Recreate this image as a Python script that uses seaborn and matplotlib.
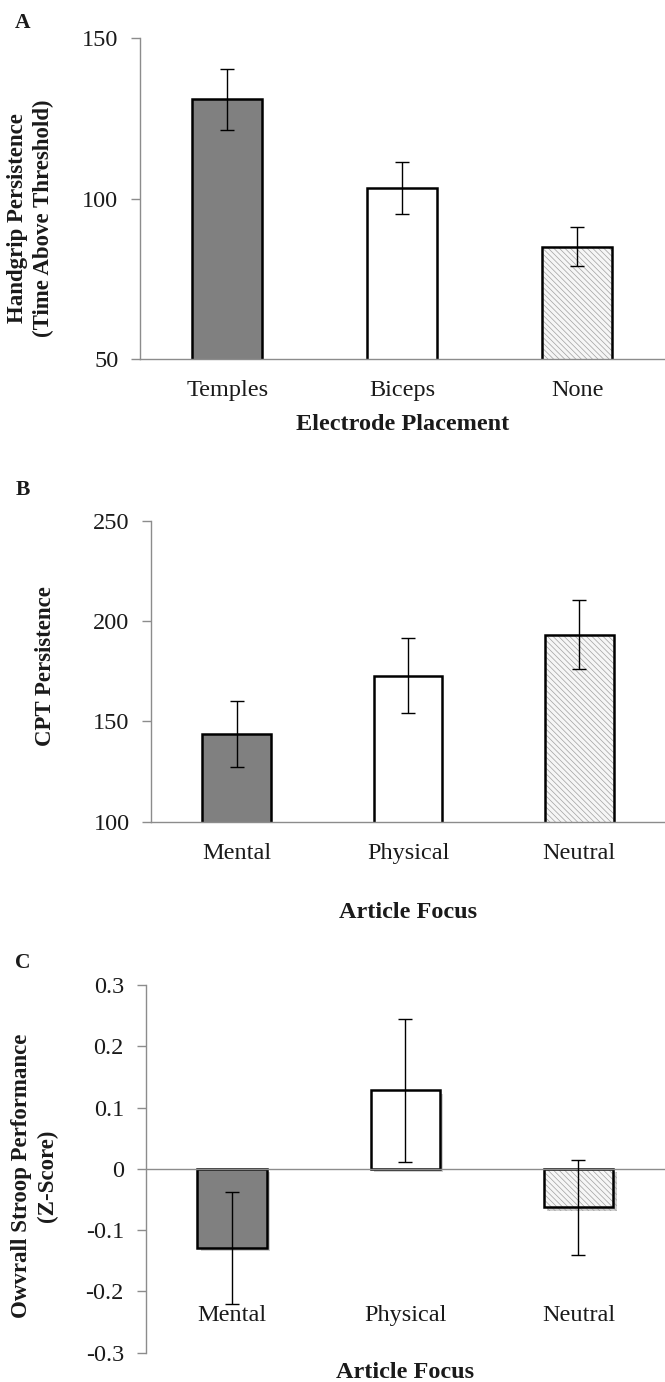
import matplotlib
matplotlib.use("Agg")
import matplotlib.pyplot as plt
import matplotlib.patheffects as pe
import seaborn as sns
import pandas as pd

sns.set_theme(style="white")
plt.rcParams['font.family'] = ['Liberation Serif', 'DejaVu Serif']
plt.rcParams['hatch.linewidth'] = 0.5

# ---- data ----
placement = ["Temples", "Biceps", "None"]
handgrip_mean = [131.0, 103.3, 85.0]
handgrip_err = [9.5, 8.1, 6.0]

focus = ["Mental", "Physical", "Neutral"]
cpt_mean = [143.6, 172.8, 193.3]
cpt_err = [16.5, 18.7, 17.3]

stroop_mean = [-0.129, 0.128, -0.063]
stroop_err = [0.091, 0.117, 0.078]

a_ticks = [50, 100, 150]
b_ticks = [100, 150, 200, 250]
c_ticks = [-0.3, -0.2, -0.1, 0, 0.1, 0.2, 0.3]
c_ticklabels = ["-0.3", "-0.2", "-0.1", "0", "0.1", "0.2", "0.3"]

fills = ["#808080", "#ffffff", "#f6f6f6"]
hatches = ["", "", "\\\\\\\\\\\\"]

AXC = "#8c8c8c"
TXT = "#1a1a1a"
TICK_FS = 17.5

fig = plt.figure(figsize=(6.65, 13.82), dpi=100)


def panel(rect, cats, means, errs, ylim, ticks, ticklabels=None, shadow=False, zero_line=False, xpad=13):
    ax = fig.add_axes(rect)
    df = pd.DataFrame({"cat": cats, "val": means})
    sns.barplot(data=df, x="cat", y="val", hue="cat", palette=fills, legend=False,
                width=0.4, errorbar=None, linewidth=0, ax=ax)
    for p, h in zip(ax.patches, hatches):
        if h:
            p.set_hatch(h)
            p.set_edgecolor("#a0a0a0")
        if shadow:
            p.set_path_effects([pe.SimplePatchShadow(offset=(2.5, -2.5), shadow_rgbFace="#000000", alpha=0.18),
                                pe.Normal()])
    n0 = len(ax.patches)
    sns.barplot(data=df, x="cat", y="val", color="black", fill=False,
                width=0.4, errorbar=None, linewidth=1.8, ax=ax)
    for p in ax.patches[n0:]:
        p.set_edgecolor("black")
        p.set_facecolor("none")
    ax.errorbar(x=list(range(len(cats))), y=means, yerr=errs, fmt="none",
                ecolor="black", elinewidth=1.0, capsize=4.7, capthick=1.0, zorder=5)
    ax.set_xlim(-0.5, len(cats) - 0.5)
    ax.set_ylim(*ylim)
    ax.set_yticks(ticks)
    if ticklabels is not None:
        ax.set_yticklabels(ticklabels)
    ax.set_xlabel("")
    ax.set_ylabel("")
    for s in ["top", "right"]:
        ax.spines[s].set_visible(False)
    ax.spines["left"].set_color(AXC)
    ax.spines["left"].set_linewidth(1.0)
    ax.spines["bottom"].set_color(AXC)
    ax.spines["bottom"].set_linewidth(1.0)
    if zero_line:
        ax.spines["bottom"].set_visible(False)
        ax.axhline(0, color=AXC, lw=1.0, zorder=1)
    ax.tick_params(axis="y", length=6.5, width=1.0, color=AXC, pad=9,
                   labelsize=TICK_FS, labelcolor=TXT, left=True)
    ax.tick_params(axis="x", length=0, pad=xpad, labelsize=TICK_FS, labelcolor=TXT)
    return ax


axA = panel([0.2105, 0.7402, 0.7895, 0.2323], placement, handgrip_mean, handgrip_err,
            (50, 150), a_ticks, xpad=15)
axB = panel([0.2271, 0.4054, 0.7729, 0.2178], focus, cpt_mean, cpt_err,
            (100, 250), b_ticks, xpad=15)
axC = panel([0.2188, 0.0212, 0.7812, 0.2661], focus, stroop_mean, stroop_err,
            (-0.3, 0.3), c_ticks, c_ticklabels, shadow=True, zero_line=True, xpad=-34)

bold = dict(fontweight="bold", color=TXT)
fig.text(0.034, 0.983, "A", ha="center", va="center", fontsize=15.5, **bold)
fig.text(0.034, 0.6454, "B", ha="center", va="center", fontsize=15.5, **bold)
fig.text(0.034, 0.3032, "C", ha="center", va="center", fontsize=15.5, **bold)

fig.text(0.046, 0.8423, "Handgrip Persistence\n(Time Above Threshold)", rotation=90,
         ha="center", va="center", multialignment="center", linespacing=1.25,
         fontsize=16.5, **bold)
fig.text(0.068, 0.5180, "CPT Persistence", rotation=90, ha="center", va="center",
         fontsize=16.5, **bold)
fig.text(0.052, 0.149, "Owvrall Stroop Performance\n(Z-Score)", rotation=90,
         ha="center", va="center", multialignment="center", linespacing=1.25,
         fontsize=16.5, **bold)

fig.text(0.605, 0.6925, "Electrode Placement", ha="center", va="center", fontsize=17.5, **bold)
fig.text(0.6135, 0.3394, "Article Focus", ha="center", va="center", fontsize=17.5, **bold)
fig.text(0.609, 0.0072, "Article Focus", ha="center", va="center", fontsize=17.5, **bold)

fig.savefig("out.png", dpi=100)
